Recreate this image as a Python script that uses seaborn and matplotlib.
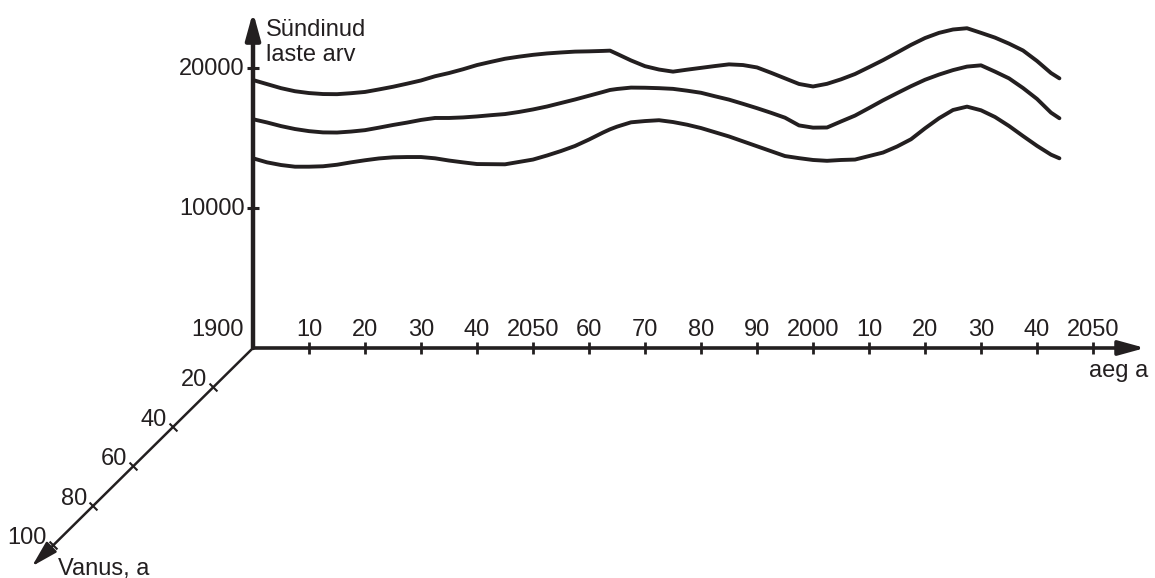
import matplotlib
matplotlib.use("Agg")
import matplotlib.pyplot as plt
import seaborn as sns
import pandas as pd

# births per year for three scenarios
years = [1900, 1902.5, 1905, 1907.5, 1910, 1912.5, 1915, 1917.5, 1920, 1922.5,
         1925, 1927.5, 1930, 1932.5, 1935, 1937.5, 1940, 1942.5, 1945, 1947.5,
         1950, 1952.5, 1955, 1957.5, 1960, 1962.5, 1963.75, 1965, 1967.5, 1970,
         1972.5, 1975, 1977.5, 1980, 1982.5, 1985, 1987.5, 1990, 1992.5, 1995,
         1997.5, 2000, 2002.5, 2005, 2007.5, 2010, 2012.5, 2015, 2017.5, 2020,
         2022.5, 2025, 2027.5, 2030, 2032.5, 2035, 2037.5, 2040, 2042.5, 2044]
top = [19140, 18850, 18560, 18340, 18210, 18140, 18130, 18200, 18290, 18470,
       18660, 18880, 19110, 19410, 19640, 19910, 20210, 20440, 20660, 20810,
       20940, 21040, 21110, 21170, 21190, 21220, 21240, 21010, 20540, 20130,
       19890, 19740, 19880, 20010, 20140, 20260, 20210, 20040, 19660, 19260,
       18860, 18680, 18870, 19190, 19570, 20060, 20560, 21100, 21650, 22140,
       22510, 22750, 22840, 22510, 22170, 21740, 21250, 20500, 19640, 19260]
middle = [16340, 16110, 15850, 15640, 15490, 15400, 15390, 15460, 15560, 15740,
          15930, 16100, 16290, 16430, 16430, 16470, 16540, 16630, 16710, 16860,
          17040, 17250, 17500, 17750, 18020, 18290, 18430, 18500, 18600, 18590,
          18560, 18510, 18380, 18230, 17980, 17740, 17440, 17130, 16800, 16450,
          15900, 15740, 15750, 16180, 16600, 17140, 17690, 18200, 18700, 19160,
          19530, 19850, 20100, 20190, 19740, 19260, 18570, 17790, 16810, 16410]
bottom = [13550, 13260, 13070, 12950, 12950, 12980, 13090, 13260, 13410, 13540,
          13620, 13640, 13640, 13550, 13390, 13260, 13140, 13130, 13120, 13290,
          13460, 13750, 14070, 14430, 14890, 15390, 15620, 15810, 16120, 16210,
          16270, 16140, 15950, 15710, 15410, 15110, 14760, 14410, 14060, 13710,
          13560, 13430, 13370, 13430, 13460, 13710, 13960, 14390, 14910, 15690,
          16410, 17000, 17240, 16980, 16500, 15860, 15140, 14440, 13810, 13550]

time_ticks = [1910, 1920, 1930, 1940, 1950, 1960, 1970, 1980, 1990, 2000,
              2010, 2020, 2030, 2040, 2050]
time_labels = ["10", "20", "30", "40", "2050", "60", "70", "80", "90", "2000",
               "10", "20", "30", "40", "2050"]
births_ticks = [10000, 20000]
births_labels = ["10000", "20000"]
age_ticks = [20, 40, 60, 80, 100]
age_labels = ["20", "40", "60", "80", "100"]

INK = "#231f20"
FS = 17

# oblique age axis: one year of age moves this far in (year, births)
AGE_DX = -2.0 / 5.6
AGE_DY = -1.975 / 0.014


def age_pos(a):
    return 1900 + a * AGE_DX, a * AGE_DY


sns.set_theme(style="white")
plt.rcParams['font.family'] = ['Liberation Sans', 'DejaVu Sans']

fig = plt.figure(figsize=(11.55, 5.78), dpi=100)
ax = fig.add_axes([0, 0, 1, 1])
ax.set_xlim(1854.82, 2061.07)
ax.set_ylim(-16429, 24857)
ax.axis('off')

n = len(years)
df = pd.DataFrame({
    'year': years * 3,
    'births': top + middle + bottom,
    'scenario': ['top'] * n + ['middle'] * n + ['bottom'] * n,
})
sns.lineplot(data=df, x='year', y='births', hue='scenario', palette=[INK] * 3,
             estimator=None, sort=False, legend=False, linewidth=2.8, ax=ax)

arrow = dict(arrowstyle="-|>,head_length=0.8,head_width=0.22", color=INK,
             shrinkA=0, shrinkB=0, mutation_scale=20)

# vertical axis (births)
ax.annotate("", xy=(1900, 24000), xytext=(1900, 0),
            arrowprops=dict(arrow, lw=3.2))
ax.plot([1900] * len(births_ticks), births_ticks, ls='none', marker='_',
        ms=8, mew=2.2, color=INK)
for v, lab in zip(births_ticks, births_labels):
    ax.annotate(lab, (1900, v), xytext=(-6, -5), textcoords='offset points',
                ha='right', va='baseline', fontsize=FS, color=INK)
ax.annotate("Sündinud\nlaste arv", (1900, 24000), xytext=(9, -35),
            textcoords='offset points', ha='left', va='baseline',
            fontsize=FS, color=INK, linespacing=1.15)

# horizontal axis (time)
ax.annotate("", xy=(2059.3, 0), xytext=(1900, 0),
            arrowprops=dict(arrow, lw=2.6))
ax.plot(time_ticks, [0] * len(time_ticks), ls='none', marker='|',
        ms=8, mew=2.0, color=INK)
for t, lab in zip(time_ticks, time_labels):
    ax.annotate(lab, (t, 0), xytext=(0, 8.5), textcoords='offset points',
                ha='center', va='baseline', fontsize=FS, color=INK)
ax.annotate("1900", (1900, 0), xytext=(-7, 8.5), textcoords='offset points',
            ha='right', va='baseline', fontsize=FS, color=INK)
ax.annotate("aeg a", (2059.8, 0), xytext=(0, -21), textcoords='offset points',
            ha='right', va='baseline', fontsize=FS, color=INK)

# oblique axis (age)
ax.annotate("", xy=age_pos(110.5), xytext=age_pos(0),
            arrowprops=dict(arrow, lw=1.8))
ax.plot([age_pos(a)[0] for a in age_ticks], [age_pos(a)[1] for a in age_ticks],
        ls='none', marker=(2, 0, 45), ms=8, mew=1.5, color=INK)
for a, lab in zip(age_ticks, age_labels):
    ax.annotate(lab, age_pos(a), xytext=(-4.5, 1), textcoords='offset points',
                ha='right', va='baseline', fontsize=FS, color=INK)
ax.annotate("Vanus, a", age_pos(110.5), xytext=(19, -6), textcoords='offset points',
            ha='left', va='baseline', fontsize=FS, color=INK)

fig.savefig("out.png", dpi=100)
